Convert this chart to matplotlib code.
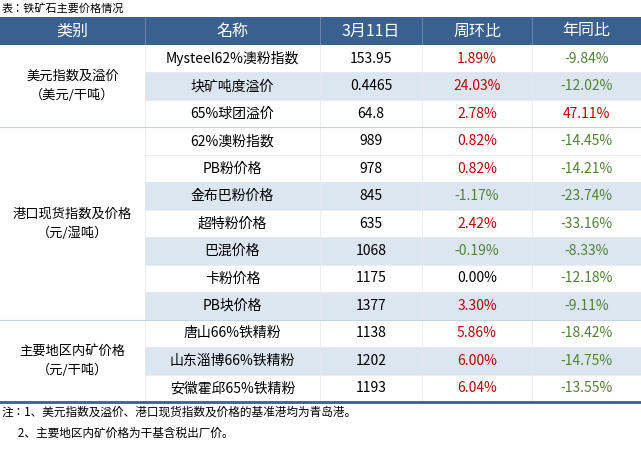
import matplotlib.pyplot as plt
from matplotlib import font_manager as fm
from matplotlib.patches import Rectangle

cjk = [f.name for f in fm.fontManager.ttflist if 'CJK' in f.name]
pref = [n for n in cjk if 'SC' in n] or cjk
plt.rcParams['font.family'] = [pref[0] if pref else 'Noto Sans CJK SC', 'DejaVu Sans']

title = "表：铁矿石主要价格情况"
headers = ["类别", "名称", "3月11日", "周环比", "年同比"]
groups = [("美元指数及溢价\n（美元/干吨）", 3),
          ("港口现货指数及价格\n（元/湿吨）", 7),
          ("主要地区内矿价格\n（元/干吨）", 3)]
names = ["Mysteel62%澳粉指数", "块矿吨度溢价", "65%球团溢价",
         "62%澳粉指数", "PB粉价格", "金布巴粉价格", "超特粉价格", "巴混价格", "卡粉价格", "PB块价格",
         "唐山66%铁精粉", "山东淄博66%铁精粉", "安徽霍邱65%铁精粉"]
prices = ["153.95", "0.4465", "64.8", "989", "978", "845", "635", "1068", "1175", "1377",
          "1138", "1202", "1193"]
wow = [1.89, 24.03, 2.78, 0.82, 0.82, -1.17, 2.42, -0.19, 0.00, 3.30, 5.86, 6.00, 6.04]
yoy = [-9.84, -12.02, 47.11, -14.45, -14.21, -23.74, -33.16, -8.33, -12.18, -9.11,
       -18.42, -14.75, -13.55]
shaded = [1, 5, 7, 9, 11]
notes = ["注：1、美元指数及溢价、港口现货指数及价格的基准港均为青岛港。",
         "      2、主要地区内矿价格为干基含税出厂价。"]

W, H = 641, 451
fig = plt.figure(figsize=(W / 100, H / 100), dpi=100)
ax = fig.add_axes([0, 0, 1, 1])
ax.set_xlim(0, W)
ax.set_ylim(H, 0)
ax.axis('off')

cols = [0, 145, 320, 422, 532, 641]
hdr_top, hdr_bot = 17, 45
row_h = (402 - hdr_bot) / len(names)
blue = '#3a6090'
stripe = '#dce6f1'
red = '#c00000'
green = '#548235'
fs = 10

ax.text(2, 8, title, fontsize=8, va='center', ha='left')
ax.add_patch(Rectangle((0, hdr_top), W, hdr_bot - hdr_top, color=blue, lw=0))
for i, h in enumerate(headers):
    ax.text((cols[i] + cols[i + 1]) / 2, (hdr_top + hdr_bot) / 2, h,
            color='white', fontsize=11.5, ha='center', va='center')
for x in cols[1:-1]:
    ax.plot([x, x], [hdr_top, hdr_bot], color='#6f8db3', lw=0.6)

for r in range(len(names)):
    y0 = hdr_bot + r * row_h
    yc = y0 + row_h / 2
    if r in shaded:
        ax.add_patch(Rectangle((cols[1], y0), W - cols[1], row_h, color=stripe, lw=0))
    ax.text((cols[1] + cols[2]) / 2, yc, names[r], fontsize=fs, ha='center', va='center')
    ax.text((cols[2] + cols[3]) / 2, yc, prices[r], fontsize=fs, ha='center', va='center')
    ax.text((cols[3] + cols[4]) / 2, yc, f"{wow[r]:.2f}%",
            fontsize=fs, ha='center', va='center', color=red if wow[r] > 0 else (green if wow[r] < 0 else 'black'))
    ax.text((cols[4] + cols[5]) / 2, yc, f"{yoy[r]:.2f}%",
            fontsize=fs, ha='center', va='center', color=red if yoy[r] > 0 else green)
    if r > 0:
        ax.plot([cols[1], W], [y0, y0], color='#e6e9ee', lw=0.6)

for x in cols[1:-1]:
    ax.plot([x, x], [hdr_bot, 402], color='#e6e9ee', lw=0.6)

start = 0
for label, n in groups:
    y0 = hdr_bot + start * row_h
    y1 = y0 + n * row_h
    ax.text(cols[1] / 2, (y0 + y1) / 2, label, fontsize=9.5, ha='center', va='center', linespacing=1.6)
    if start > 0:
        ax.plot([0, W], [y0, y0], color='#c9d3df', lw=0.8)
    start += n

ax.plot([0, W], [402, 402], color=blue, lw=2)
ax.text(2, 412, notes[0], fontsize=8.4, ha='left', va='center')
ax.text(2, 433, notes[1], fontsize=8.4, ha='left', va='center')

fig.savefig("out.png", dpi=100)
